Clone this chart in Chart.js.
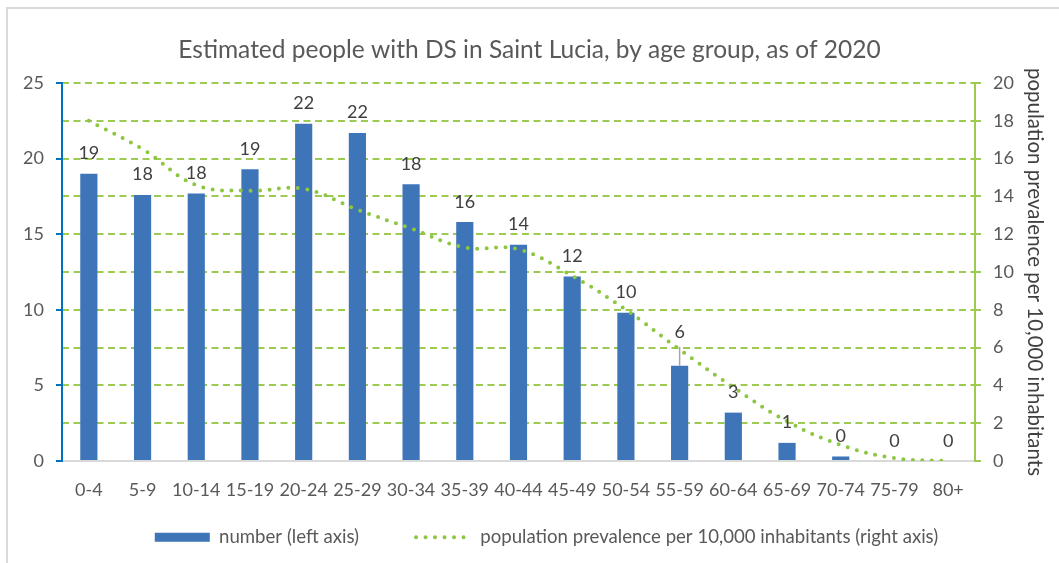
<!DOCTYPE html>
<html>
<head>
<meta charset="utf-8">
<script src="https://cdn.jsdelivr.net/npm/chart.js@4.4.1/dist/chart.umd.min.js"></script>
<style>
  html, body { margin: 0; padding: 0; background: #fff; }
  #wrap { position: relative; width: 1059px; height: 563px; overflow: hidden; }
  #frame { position: absolute; left: 6px; top: 7px; right: -4px; bottom: -4px;
           border: 2px solid #d9d9d9; pointer-events: none; }
</style>
</head>
<body>
<div id="wrap">
  <canvas id="chart" width="1059" height="563"></canvas>
  <div id="frame"></div>
</div>
<script>
// age groups
var ageGroups = ['0-4', '5-9', '10-14', '15-19', '20-24', '25-29', '30-34', '35-39', '40-44',
                 '45-49', '50-54', '55-59', '60-64', '65-69', '70-74', '75-79', '80+'];
// estimated number of people with DS (left axis)
var peopleCount = [19.0, 17.6, 17.7, 19.3, 22.3, 21.7, 18.3, 15.8, 14.3, 12.2, 9.8, 6.3, 3.2, 1.2, 0.3, 0, 0];
// prevalence per 10,000 inhabitants (right axis)
var prevalence = [18.0, 16.5, 14.6, 14.3, 14.4, 13.3, 12.3, 11.3, 11.2, 9.8, 8.0, 5.9, 3.9, 2.1, 0.85, 0.15, 0];

var textGrey = '#595959';
var barBlue = '#3E75B9';
var dotGreen = '#8DC63F';
var gridGreen = '#9DCB52';

// value labels above the bars, with a leader line where a label is lifted
var barLabels = {
  id: 'barLabels',
  afterDatasetsDraw: function(chart, args, opts) {
    var ctx = chart.ctx;
    var meta = chart.getDatasetMeta(1);
    ctx.save();
    ctx.font = '18px Lato';
    ctx.fillStyle = '#404040';
    ctx.textAlign = 'center';
    ctx.textBaseline = 'alphabetic';
    meta.data.forEach(function(bar, i) {
      var lift = opts.lift[i] || 0;
      var y = bar.y - 14.5 - lift;
      if (lift) {
        ctx.strokeStyle = '#a6a6a6';
        ctx.lineWidth = 1.5;
        ctx.beginPath();
        ctx.moveTo(bar.x, bar.y);
        ctx.lineTo(bar.x, y + 9);
        ctx.stroke();
      }
      ctx.fillText(Math.round(peopleCount[i]), bar.x, y);
    });
    ctx.restore();
  }
};

// the legend sits a little right of centre in the original
var legendShift = {
  id: 'legendShift',
  afterLayout: function(chart, args, opts) {
    chart.legend.left += opts.dx;
    chart.legend.right += opts.dx;
  }
};

var ctx = document.getElementById('chart').getContext('2d');

new Chart(ctx, {
  type: 'bar',
  data: {
    labels: ageGroups,
    datasets: [{
      type: 'line',
      label: 'population prevalence per 10,000 inhabitants (right axis)',
      data: prevalence,
      yAxisID: 'y1',
      borderColor: dotGreen,
      backgroundColor: dotGreen,
      borderWidth: 4,
      borderDash: [0, 9.5],
      borderCapStyle: 'round',
      pointRadius: 0,
      tension: 0.4,
      order: 0
    }, {
      label: 'number (left axis)',
      data: peopleCount,
      yAxisID: 'y',
      backgroundColor: barBlue,
      barPercentage: 0.32,
      categoryPercentage: 1,
      order: 1
    }]
  },
  options: {
    responsive: false,
    animation: false,
    layout: { padding: { left: 0, right: 0, top: 0, bottom: 6.4 } },
    plugins: {
      title: {
        display: true,
        text: 'Estimated people with DS in Saint Lucia, by age group, as of 2020',
        color: textGrey,
        font: { family: 'Lato', size: 24.5, weight: 'normal' },
        padding: { top: 35, bottom: 18.6 }
      },
      legend: {
        position: 'bottom',
        reverse: true,
        labels: {
          color: textGrey,
          font: { family: 'Lato', size: 18.6 },
          usePointStyle: true,
          pointStyleWidth: 55,
          boxWidth: 55,
          boxHeight: 9,
          padding: 57,
          generateLabels: function(chart) {
            var items = Chart.defaults.plugins.legend.labels.generateLabels(chart);
            items.forEach(function(item) {
              if (item.datasetIndex === 0) {
                item.pointStyle = 'line';
                item.lineDash = [0, 9.5];
                item.lineCap = 'round';
                item.lineWidth = 4;
                item.strokeStyle = dotGreen;
              } else {
                item.pointStyle = 'rect';
                item.lineWidth = 0;
                item.fillStyle = barBlue;
              }
            });
            return items;
          }
        }
      },
      tooltip: { enabled: false },
      barLabels: { lift: { 11: 13.5 } },
      legendShift: { dx: 17 }
    },
    scales: {
      x: {
        grid: { display: false },
        border: { color: '#d9d9d9', width: 2 },
        // mirrored with negative padding: labels sit below the axis and are not clipped to the thin axis box
        ticks: { color: textGrey, font: { family: 'Lato', size: 18 }, mirror: true, padding: -40, maxRotation: 0, autoSkip: false },
        afterFit: function(scale) { scale.height = 10; }
      },
      y: {
        position: 'left',
        min: 0,
        max: 25,
        ticks: { stepSize: 5, color: textGrey, font: { family: 'Lato', size: 18 }, padding: 12 },
        grid: { drawOnChartArea: false, color: '#0070C0', tickLength: 6, lineWidth: 2 },
        border: { color: '#0070C0', width: 2 },
        afterFit: function(scale) { scale.width = 62; }
      },
      y1: {
        position: 'right',
        min: 0,
        max: 20,
        ticks: { stepSize: 2, color: textGrey, font: { family: 'Lato', size: 18 }, padding: 12 },
        grid: {
          color: gridGreen,
          lineWidth: 2,
          tickBorderDash: [],
          tickColor: gridGreen,
          tickLength: 6
        },
        border: { color: gridGreen, width: 2, dash: [7, 4.5] },
        title: {
          display: true,
          text: 'population prevalence per 10,000 inhabitants',
          color: '#404040',
          font: { family: 'Lato', size: 20.5 },
          padding: { top: 12, bottom: 0 }
        },
        afterFit: function(scale) { scale.width = 84; }
      }
    }
  },
  plugins: [barLabels, legendShift]
});
</script>
</body>
</html>
